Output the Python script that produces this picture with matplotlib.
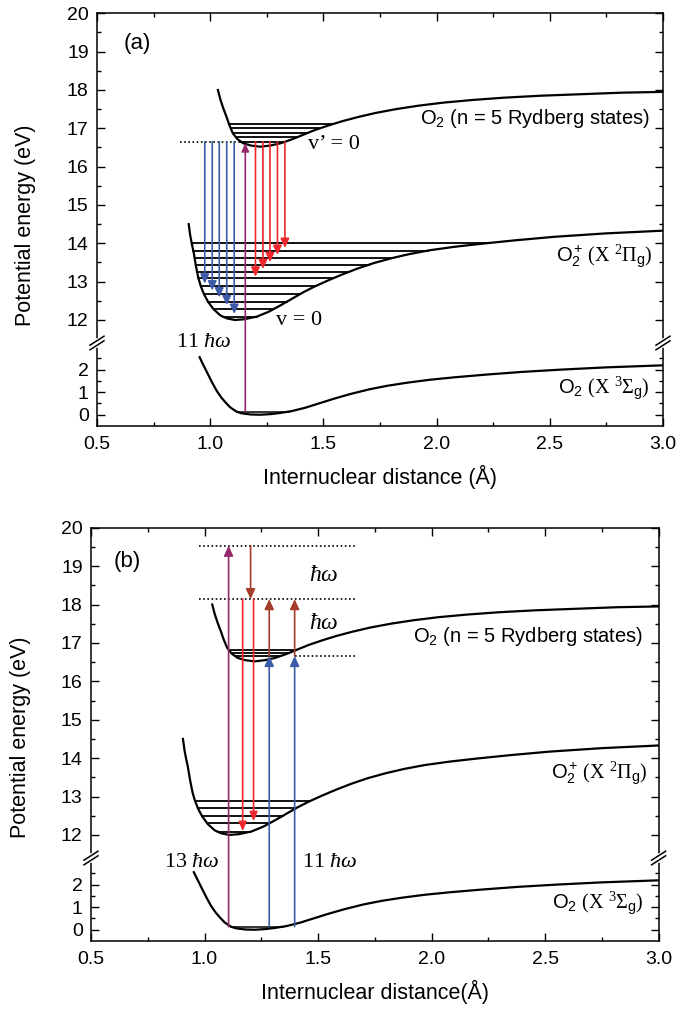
import numpy as np
import matplotlib
matplotlib.use("Agg")
import matplotlib.pyplot as plt
from matplotlib.ticker import MultipleLocator, FixedLocator
from matplotlib.lines import Line2D

plt.rcParams['font.family'] = ['Liberation Sans', 'DejaVu Sans']
plt.rcParams['mathtext.fontset'] = 'custom'
plt.rcParams['mathtext.rm'] = 'Liberation Serif'
plt.rcParams['mathtext.it'] = 'Liberation Serif:italic'
plt.rcParams['mathtext.sf'] = 'Liberation Sans'
plt.rcParams['mathtext.bf'] = 'Liberation Serif:bold'

# ---------------- potential curves ----------------
ground_r = [0.953, 0.97, 0.99, 1.01, 1.028, 1.05, 1.07, 1.088, 1.105, 1.118, 1.14, 1.18,
            1.222, 1.27, 1.31, 1.36, 1.42, 1.48, 1.55, 1.62, 1.70, 1.78, 1.87, 1.97,
            2.08, 2.22, 2.38, 2.55, 2.75, 3.00]
ground_E = [2.55, 2.20, 1.80, 1.40, 1.07, 0.75, 0.52, 0.33, 0.21, 0.13, 0.06, 0.01,
            0.00, 0.03, 0.08, 0.16, 0.31, 0.50, 0.72, 0.92, 1.12, 1.28, 1.42, 1.55,
            1.66, 1.78, 1.90, 2.00, 2.10, 2.19]

ion_r = [0.905, 0.912, 0.920, 0.926, 0.931, 0.936, 0.942, 0.948, 0.958, 0.972, 0.99,
         1.015, 1.045, 1.075, 1.11, 1.15, 1.207, 1.26, 1.31, 1.36, 1.41, 1.46, 1.52,
         1.58, 1.65, 1.72, 1.80, 1.88, 1.97, 2.08, 2.20, 2.35, 2.52, 2.75, 3.00]
ion_E = [14.50, 14.20, 13.95, 13.80, 13.62, 13.44, 13.26, 13.09, 12.89, 12.68, 12.48,
         12.28, 12.12, 12.04, 12.00, 12.02, 12.09, 12.22, 12.38, 12.55, 12.72, 12.87, 13.03,
         13.18, 13.34, 13.48, 13.61, 13.72, 13.82, 13.91, 13.99, 14.08, 14.17, 14.26, 14.33]

ryd_r = [1.034, 1.045, 1.058, 1.072, 1.085, 1.10, 1.12, 1.146, 1.18, 1.221, 1.265,
         1.311, 1.36, 1.41, 1.46, 1.52, 1.58, 1.65, 1.73, 1.82, 1.92, 2.03, 2.16,
         2.30, 2.46, 2.64, 2.82, 3.00]
ryd_E = [18.00, 17.75, 17.52, 17.30, 17.08, 16.87, 16.72, 16.61, 16.55, 16.52, 16.55,
         16.61, 16.71, 16.83, 16.95, 17.07, 17.18, 17.29, 17.40, 17.50, 17.59, 17.67, 17.74,
         17.80, 17.85, 17.89, 17.93, 17.95]

# ---------------- vibrational levels ----------------
ground_levels = [0.14]
ion_levels_a = [12.09, 12.28, 12.48, 12.68, 12.89, 13.09, 13.26, 13.44, 13.62, 13.81, 14.00]
ryd_levels_a = [16.65, 16.77, 16.88, 17.00, 17.11]
ion_levels_b = [12.08, 12.30, 12.50, 12.69, 12.88]
ryd_levels_b = [16.66, 16.74, 16.81]

# ---------------- panel (a) transitions ----------------
a_pump_x, a_pump_from, a_pump_to = 1.155, 0.14, 16.62
a_emit_from = 16.65
a_blue_x = [0.976, 1.009, 1.040, 1.073, 1.106]
a_blue_to = [12.95, 12.77, 12.59, 12.39, 12.16]
a_red_x = [1.200, 1.233, 1.264, 1.297, 1.330]
a_red_to = [13.13, 13.33, 13.51, 13.70, 13.88]
a_dot_x, a_dot_E = [0.865, 1.15], 16.65

# ---------------- panel (b) transitions ----------------
b_top, b_mid, b_low = 19.53, 18.14, 16.66
b_dot_top_x = [0.976, 1.668]
b_dot_low_x = [1.397, 1.668]
b_pump13_x = 1.106
b_down_x = 1.203
b_red_x = [1.168, 1.216]
b_red_to = [12.10, 12.36]
b_up_x = [1.285, 1.397]
b_ground_from = 0.14

BLUE = '#3b5aa8'
RED = '#f0282d'
PURPLE = '#96296a'
BROWN = '#a33d2a'

fig = plt.figure(figsize=(6.82, 10.10), dpi=100)
W, H = 682.0, 1010.0


def make_panel(left, width, bot, brk, top):
    ax_b = fig.add_axes([left, bot, width, brk - bot])
    ax_t = fig.add_axes([left, brk, width, top - brk], sharex=ax_b)
    ax_t.set_ylim(11.4, 20.0)
    ax_b.set_ylim(-0.5, 3.18)
    ax_b.set_xlim(0.5, 3.0)
    ax_t.spines['bottom'].set_visible(False)
    ax_b.spines['top'].set_visible(False)
    for ax in (ax_t, ax_b):
        ax.patch.set_visible(False)
        for s in ax.spines.values():
            s.set_linewidth(1.1)
        ax.xaxis.set_major_locator(MultipleLocator(0.5))
        ax.xaxis.set_minor_locator(MultipleLocator(0.25))
        ax.tick_params(axis='both', which='both', direction='in', labelsize=14,
                       left=True, right=True, width=1.0)
        ax.tick_params(axis='both', which='major', length=5.5)
        ax.tick_params(axis='both', which='minor', length=3.2)
        ax.tick_params(axis='y', pad=6)
    ax_t.tick_params(axis='x', which='both', bottom=False, top=True, labelbottom=False)
    ax_b.tick_params(axis='x', which='both', bottom=True, top=False, pad=7)
    ax_t.yaxis.set_major_locator(FixedLocator([12, 13, 14, 15, 16, 17, 18, 19, 20]))
    ax_t.yaxis.set_minor_locator(FixedLocator([12.5, 13.5, 14.5, 15.5, 16.5, 17.5, 18.5, 19.5]))
    ax_b.yaxis.set_major_locator(FixedLocator([0, 1, 2]))
    ax_b.yaxis.set_minor_locator(FixedLocator([0.5, 1.5, 2.5]))
    # break marks
    for xs in (left, left + width):
        fig.add_artist(Line2D([xs, xs], [brk - 2.6 / H, brk + 2.6 / H], transform=fig.transFigure,
                              color='white', lw=2.6, zorder=10))
        for off in (-2.3, 2.3):
            fig.add_artist(Line2D([xs - 7 / W, xs + 7 / W],
                                  [brk + (off - 4.5) / H, brk + (off + 4.5) / H],
                                  transform=fig.transFigure, color='black', lw=1.1, zorder=11))
    return ax_t, ax_b


def draw_levels(ax, r, E, levels, lw=1.3):
    r = np.asarray(r); E = np.asarray(E)
    i0 = int(np.argmin(E))
    rl, El = r[:i0 + 1][::-1], E[:i0 + 1][::-1]
    rr, Er = r[i0:], E[i0:]
    for lv in levels:
        x0 = np.interp(lv, El, rl)
        x1 = np.interp(lv, Er, rr)
        ax.plot([x0, x1], [lv, lv], color='black', lw=lw, zorder=2.5)


def arrow(ax_to, x, y_to, y_from, color, ax_from=None, hl=0.45, hw=0.2, ms=10, lw=1.2):
    tc = 'data' if ax_from is None else ax_from.transData
    ax_to.annotate('', xy=(x, y_to), xycoords='data', xytext=(x, y_from), textcoords=tc,
                   arrowprops=dict(arrowstyle='-|>,head_length=%g,head_width=%g' % (hl, hw),
                                   color=color, lw=lw, shrinkA=0, shrinkB=0, mutation_scale=ms),
                   zorder=3)


def curves(ax_t, ax_b):
    ax_b.plot(ground_r, ground_E, color='black', lw=1.6, zorder=2)
    ax_t.plot(ion_r, ion_E, color='black', lw=1.6, zorder=2)
    ax_t.plot(ryd_r, ryd_E, color='black', lw=1.6, zorder=2)
    draw_levels(ax_b, ground_r, ground_E, ground_levels, lw=1.1)


lab_ryd = r'O$_\mathsf{2}$ (n = 5 Rydberg states)'
lab_ion = r'O$_\mathsf{2}^{\,\mathsf{+}}$ $(\mathrm{X}\ {}^{\mathit{2}}\Pi_{\mathsf{g}})$'
lab_gnd = r'O$_\mathsf{2}$ $(\mathrm{X}\ {}^{\mathit{3}}\Sigma_{\mathsf{g}})$'
LAB = 14.5
SER = 16

# ======================= panel (a) =======================
aT, aB = make_panel(97 / W, 566 / W, 1 - 426 / H, 1 - 343 / H, 1 - 13.3 / H)
curves(aT, aB)
draw_levels(aT, ion_r, ion_E, ion_levels_a)
draw_levels(aT, ryd_r, ryd_E, ryd_levels_a)
aT.plot(a_dot_x, [a_dot_E, a_dot_E], color='black', lw=1.2, ls=(0, (1, 1.5)), zorder=2.5)
for x, y in zip(a_blue_x, a_blue_to):
    arrow(aT, x, y, a_emit_from, BLUE, hl=0.55, hw=0.26)
for x, y in zip(a_red_x, a_red_to):
    arrow(aT, x, y, a_emit_from, RED, hl=0.55, hw=0.26)
arrow(aT, a_pump_x, a_pump_to, a_pump_from, PURPLE, ax_from=aB, hl=0.5, hw=0.22)

aT.text(0.677, 19.22, '(a)', fontsize=16, ha='center', va='center')
aT.text(2.942, 17.26, lab_ryd, fontsize=LAB, ha='right', va='center')
aT.text(2.952, 13.65, lab_ion, fontsize=LAB, ha='right', va='center')
aB.text(2.942, 1.185, lab_gnd, fontsize=LAB, ha='right', va='center')
aT.text(1.43, 16.57, 'v\u2019 = 0', fontsize=SER, family='Liberation Serif', ha='left', va='center')
aT.text(1.29, 11.98, 'v = 0', fontsize=SER, family='Liberation Serif', ha='left', va='center')
aB.text(0.972, 3.19, r'11 $\hbar\omega$', fontsize=SER, family='Liberation Serif',
        ha='center', va='center')
aB.set_xlabel('Internuclear distance (\u00c5)', fontsize=15.5, labelpad=9)
fig.text(26 / W, 1 - 225 / H, 'Potential energy (eV)', fontsize=15.5, rotation=90,
         ha='center', va='center')

# ======================= panel (b) =======================
bT, bB = make_panel(91 / W, 567.6 / W, 1 - 941 / H, 1 - 858 / H, 1 - 527.7 / H)
curves(bT, bB)
draw_levels(bT, ion_r, ion_E, ion_levels_b)
draw_levels(bT, ryd_r, ryd_E, ryd_levels_b)
for yv in (b_top, b_mid):
    bT.plot(b_dot_top_x, [yv, yv], color='black', lw=1.2, ls=(0, (1, 1.5)), zorder=2.5)
bT.plot(b_dot_low_x, [b_low, b_low], color='black', lw=1.2, ls=(0, (1, 1.5)), zorder=2.5)

arrow(bT, b_pump13_x, b_top, b_ground_from, PURPLE, ax_from=bB, hl=0.6, hw=0.28)
arrow(bT, b_down_x, b_mid, b_top, BROWN, hl=0.6, hw=0.28)
for x, y in zip(b_red_x, b_red_to):
    arrow(bT, x, y, b_mid, RED, hl=0.55, hw=0.24)
for x in b_up_x:
    arrow(bT, x, b_mid, b_low, BROWN, hl=0.6, hw=0.28)
    arrow(bT, x, b_low, b_ground_from, BLUE, ax_from=bB, hl=0.6, hw=0.28)

bT.text(0.661, 19.11, '(b)', fontsize=16, ha='center', va='center')
bT.text(1.525, 18.77, r'$\hbar\omega$', fontsize=17, ha='center', va='center')
bT.text(1.525, 17.51, r'$\hbar\omega$', fontsize=17, ha='center', va='center')
bT.text(2.932, 17.16, lab_ryd, fontsize=LAB, ha='right', va='center')
bT.text(2.951, 13.60, lab_ion, fontsize=LAB, ha='right', va='center')
bB.text(2.932, 1.15, lab_gnd, fontsize=LAB, ha='right', va='center')
bB.text(0.943, 2.99, r'13 $\hbar\omega$', fontsize=SER, family='Liberation Serif',
        ha='center', va='center')
bB.text(1.554, 2.99, r'11 $\hbar\omega$', fontsize=SER, family='Liberation Serif',
        ha='center', va='center')
bB.set_xlabel('Internuclear distance(\u00c5)', fontsize=15.5, labelpad=9)
fig.text(21 / W, 1 - 737.5 / H, 'Potential energy (eV)', fontsize=15.5, rotation=90,
         ha='center', va='center')

fig.savefig('out.png', dpi=100)
